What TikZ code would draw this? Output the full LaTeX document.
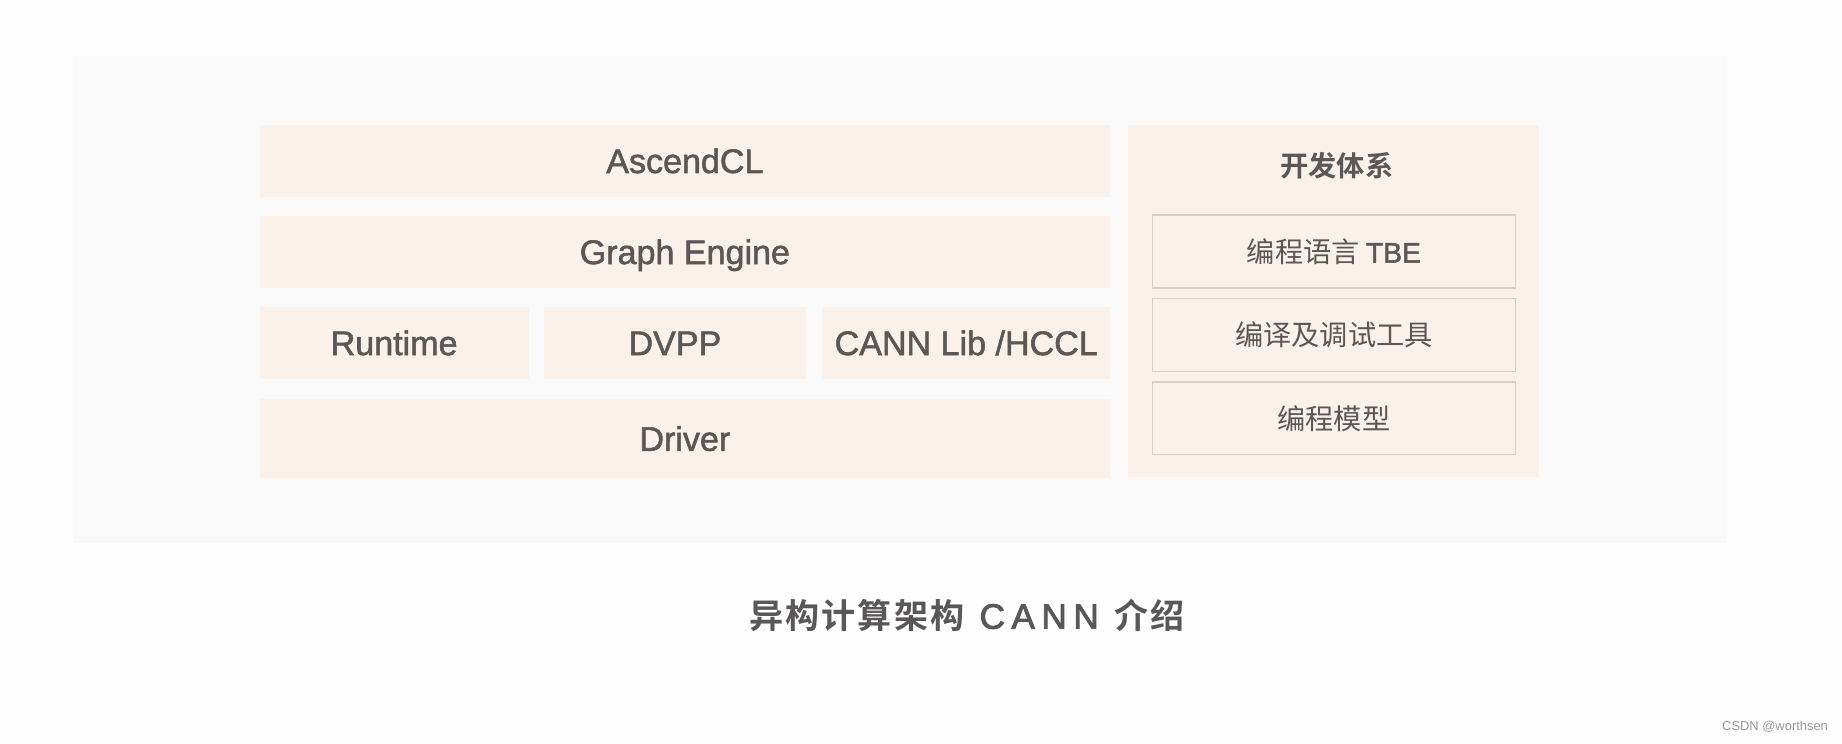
\documentclass[tikz,border=0pt]{standalone}
\usepackage{fontspec}
\setmainfont{Liberation Sans}
\newfontfamily\lat{Liberation Sans}[FakeBold=1.6]
\newfontfamily\latc{Liberation Sans}[FakeBold=2.4]
\newfontfamily\cjk{Noto Sans CJK SC}
\newfontfamily\cjkb{Noto Sans CJK SC Bold}
\definecolor{pagebg}{RGB}{254,254,254}
\definecolor{panelbg}{RGB}{249,249,249}
\definecolor{boxbg}{RGB}{251,241,235}
\definecolor{txt}{RGB}{89,87,87}
\definecolor{edge}{RGB}{213,207,203}
\definecolor{mark}{RGB}{150,150,150}
\tikzset{
  layer/.style={fill=boxbg, draw=none, inner sep=0pt, text=txt,
    text height=20.5pt, text depth=0pt,
    font=\lat\fontsize{29}{33}\selectfont},
  devbox/.style={fill=boxbg, draw=edge, line width=1.2pt, inner sep=0pt, text=txt,
    text height=19pt, text depth=0pt,
    font=\cjk\fontsize{24}{28}\selectfont},
}
\newcommand{\cjgap}{\hspace{1.8pt}}
\newcommand{\latgap}{\hspace{5.5pt}}
\begin{document}
\begin{tikzpicture}[x=1pt,y=-1pt]
\fill[pagebg] (0,0) rectangle (1568,632.5);
\useasboundingbox (0,0) rectangle (1568,632.5);
\fill[panelbg] (62,48) rectangle (1470,462);
\node[layer, minimum width=724pt, minimum height=62pt] (acl) at (583,137) {AscendCL};
\node[layer, minimum width=724pt, minimum height=61pt] (ge) at (583,214.5) {Graph Engine};
\node[layer, minimum width=229pt, minimum height=62pt] (rt) at (335.5,292) {Runtime};
\node[layer, minimum width=223pt, minimum height=62pt] (dvpp) at (574.5,292) {DVPP};
\node[layer, minimum width=245pt, minimum height=62pt] (lib) at (822.5,292) {CANN Lib /HCCL};
\node[layer, minimum width=724pt, minimum height=67pt] (drv) at (583,373.5) {Driver};
\node[fill=boxbg, inner sep=0pt, minimum width=350pt, minimum height=300pt] (dev) at (1135,256) {};
\node[text=txt, inner sep=0pt, font=\cjkb\fontsize{24}{28}\selectfont] (devt) at (1138,141) {开发体系};
\node[devbox, minimum width=309pt, minimum height=62pt] (tbe) at (1135.5,214) {编程语言 {\lat TBE}};
\node[devbox, minimum width=309pt, minimum height=62pt] (tool) at (1135.5,285) {编译及调试工具};
\node[devbox, minimum width=309pt, minimum height=62pt] (model) at (1135.5,356) {编程模型};
\node[text=txt, inner sep=0pt, font=\cjkb\fontsize{29}{33}\selectfont] (cap) at (823,524)
  {异\cjgap 构\cjgap 计\cjgap 算\cjgap 架\cjgap 构\hspace{13pt}{\latc\fontsize{30}{33}\selectfont C\latgap A\latgap N\latgap N}\hspace{13pt}介\cjgap 绍};
\node[text=mark, inner sep=0pt, font=\fontsize{11}{13}\selectfont] (wm) at (1511,619) {CSDN @worthsen};
\end{tikzpicture}
\end{document}
